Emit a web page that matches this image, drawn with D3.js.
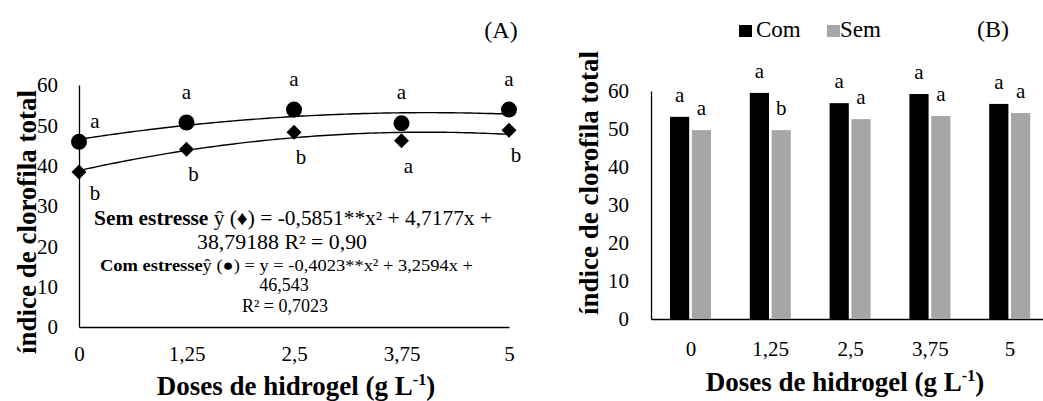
<!DOCTYPE html>
<html>
<head>
<meta charset="utf-8">
<script src="https://cdn.jsdelivr.net/npm/d3@7"></script>
<style>
  html, body { margin: 0; padding: 0; background: #fff; }
  svg { display: block; }
  text { font-family: "Liberation Serif", "Times New Roman", serif; fill: #000; }
</style>
</head>
<body>
<svg id="chart" width="1043" height="401"></svg>
<script>
// Doses of hydrogel (g L-1)
const doseLabels = ["0", "1,25", "2,5", "3,75", "5"];
const doseValues = [0, 1.25, 2.5, 3.75, 5];
const yTicks = [0, 10, 20, 30, 40, 50, 60];

// Panel A: observed means
const comPoints = [45.9, 50.7, 53.9, 50.5, 53.9];   // com estresse (●)
const semPoints = [38.4, 44.1, 48.3, 46.2, 48.8];   // sem estresse (♦)
const comLettersA = ["a", "a", "a", "a", "a"];
const semLettersA = ["b", "b", "b", "a", "b"];

// Panel A: quadratic fits (c0, c1, c2)
const comCoef = [46.543, 3.2594, -0.4023];
const semCoef = [38.79188, 4.7177, -0.5851];

// Panel B: bar means
const seriesNames = ["Com", "Sem"];
const comBars = [53.2, 59.5, 56.8, 59.2, 56.6];
const semBars = [49.7, 49.7, 52.6, 53.4, 54.2];
const comLettersB = ["a", "a", "a", "a", "a"];
const semLettersB = ["a", "b", "a", "a", "a"];

const colors = { Com: "#000000", Sem: "#a6a6a6" };
const svg = d3.select("#chart");
const fmt = d => String(d).replace(".", ",");

function styleAxis(g) {
  g.select(".domain").attr("stroke", "#000").attr("stroke-width", 1.3);
  g.selectAll("text").style("font-family", "Liberation Serif, serif").style("font-size", "21px").attr("fill", "#000");
}

function axisTitle(x, y, rotate) {
  const t = svg.append("text")
    .attr("transform", `translate(${x},${y})` + (rotate ? " rotate(-90)" : ""))
    .attr("text-anchor", "middle").style("font-size", "27px").style("font-weight", "bold");
  return t;
}

// ---------------- Panel A ----------------
const xA = d3.scaleLinear().domain([0, 5]).range([79, 509]);
const yA = d3.scaleLinear().domain([0, 60]).range([327, 85]);

svg.append("g").attr("transform", `translate(0,${yA(0)})`)
  .call(d3.axisBottom(xA).tickValues(doseValues).tickFormat(fmt).tickSize(0).tickSizeOuter(0).tickPadding(19))
  .call(styleAxis);
svg.append("g").attr("transform", `translate(${xA(0)},0)`)
  .call(d3.axisLeft(yA).tickValues(yTicks).tickSize(0).tickSizeOuter(0).tickPadding(21))
  .call(styleAxis);

const quad = (c, x) => c[0] + c[1] * x + c[2] * x * x;
const xs = d3.range(0, 5.0001, 0.05);
const curve = d3.line().x(d => xA(d[0])).y(d => yA(d[1]));
[comCoef, semCoef].forEach(c => {
  svg.append("path")
    .attr("d", curve(xs.map(x => [x, quad(c, x)])))
    .attr("fill", "none").attr("stroke", "#000").attr("stroke-width", 1.4);
});

svg.append("g").selectAll("circle").data(comPoints).join("circle")
  .attr("cx", (d, i) => xA(doseValues[i])).attr("cy", d => yA(d)).attr("r", 8).attr("fill", "#000");
svg.append("g").selectAll("path").data(semPoints).join("path")
  .attr("d", (d, i) => {
    const cx = xA(doseValues[i]), cy = yA(d);
    return `M${cx},${cy - 7.5}L${cx + 7.5},${cy}L${cx},${cy + 7.5}L${cx - 7.5},${cy}Z`;
  }).attr("fill", "#000");

svg.append("g").selectAll("text").data(comLettersA).join("text")
  .attr("x", (d, i) => xA(doseValues[i]) + (i === 0 ? 16 : 0))
  .attr("y", (d, i) => yA(comPoints[i]) - (i === 0 ? 14 : 24))
  .attr("text-anchor", "middle").style("font-size", "21px").text(d => d);
svg.append("g").selectAll("text").data(semLettersA).join("text")
  .attr("x", (d, i) => xA(doseValues[i]) + (i === 0 ? 16 : 7))
  .attr("y", (d, i) => yA(semPoints[i]) + (i === 0 ? 28 : 32))
  .attr("text-anchor", "middle").style("font-size", "21px").text(d => d);

// regression equations
const eq = svg.append("g");
const l1 = eq.append("text").attr("x", 94).attr("y", 225).style("font-size", "20px")
  .attr("textLength", 398).attr("lengthAdjust", "spacingAndGlyphs");
l1.append("tspan").style("font-weight", "bold").text("Sem estresse ");
l1.append("tspan").text("ŷ (♦) = -0,5851**x² + 4,7177x +");
eq.append("text").attr("x", 282).attr("y", 249).attr("text-anchor", "middle").style("font-size", "20px")
  .attr("textLength", 170).attr("lengthAdjust", "spacingAndGlyphs")
  .text("38,79188 R² = 0,90");
const l3 = eq.append("text").attr("x", 100).attr("y", 271).style("font-size", "17px")
  .attr("textLength", 373).attr("lengthAdjust", "spacingAndGlyphs");
l3.append("tspan").style("font-weight", "bold").text("Com estresse");
l3.append("tspan").text("ŷ (●) = y = -0,4023**x²  + 3,2594x  +");
eq.append("text").attr("x", 284).attr("y", 291).attr("text-anchor", "middle").style("font-size", "18px").text("46,543");
eq.append("text").attr("x", 285).attr("y", 312).attr("text-anchor", "middle").style("font-size", "18px").text("R² = 0,7023");

svg.append("text").attr("x", 501).attr("y", 38).attr("text-anchor", "middle").style("font-size", "24px").text("(A)");

axisTitle(36, 222, true).text("índice de clorofila total");
const tA = axisTitle(296, 395, false);
tA.append("tspan").text("Doses de hidrogel (g L");
tA.append("tspan").attr("dy", -10).style("font-size", "16px").text("-1");
tA.append("tspan").attr("dy", 10).text(")");

// ---------------- Panel B ----------------
const xB = d3.scaleBand().domain(doseLabels).range([651, 1050]);
const xS = d3.scaleBand().domain(seriesNames).range([19, 60]).paddingInner(0.12);
const yB = d3.scaleLinear().domain([0, 60]).range([319, 91]);

svg.append("g").attr("transform", `translate(0,${yB(0)})`)
  .call(d3.axisBottom(xB).tickSize(0).tickSizeOuter(0).tickPadding(22))
  .call(styleAxis);
svg.append("g").attr("transform", `translate(651,0)`)
  .call(d3.axisLeft(yB).tickValues(yTicks).tickSize(0).tickSizeOuter(0).tickPadding(22))
  .call(styleAxis);

const barData = [
  { name: "Com", values: comBars, letters: comLettersB },
  { name: "Sem", values: semBars, letters: semLettersB }
];
barData.forEach(s => {
  svg.append("g").selectAll("rect").data(s.values).join("rect")
    .attr("x", (d, i) => xB(doseLabels[i]) + xS(s.name))
    .attr("y", d => yB(d))
    .attr("width", xS.bandwidth())
    .attr("height", d => yB(0) - yB(d))
    .attr("fill", colors[s.name]);
  svg.append("g").selectAll("text").data(s.letters).join("text")
    .attr("x", (d, i) => xB(doseLabels[i]) + xS(s.name) + xS.bandwidth() / 2)
    .attr("y", (d, i) => yB(s.values[i]) - 15)
    .attr("text-anchor", "middle").style("font-size", "21px").text(d => d);
});

// legend
const leg = svg.append("g");
[["Com", 739, 756], ["Sem", 827, 840]].forEach(([name, sx, tx]) => {
  leg.append("rect").attr("x", sx).attr("y", 25).attr("width", 13).attr("height", 12).attr("fill", colors[name]);
  leg.append("text").attr("x", tx).attr("y", 37).style("font-size", "23px").text(name);
});
svg.append("text").attr("x", 993).attr("y", 37).attr("text-anchor", "middle").style("font-size", "24px").text("(B)");

axisTitle(598, 183, true).text("índice de clorofila total");
const tB = axisTitle(845, 391, false);
tB.append("tspan").text("Doses de hidrogel (g L");
tB.append("tspan").attr("dy", -10).style("font-size", "16px").text("-1");
tB.append("tspan").attr("dy", 10).text(")");
</script>
</body>
</html>
